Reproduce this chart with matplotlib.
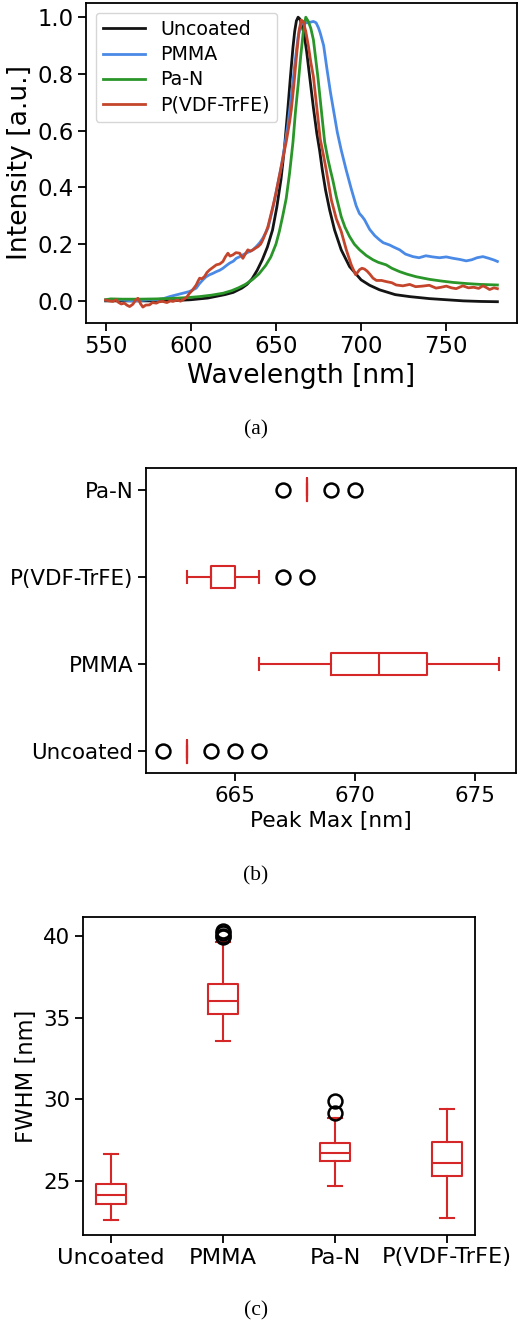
import matplotlib
matplotlib.use("Agg")
import matplotlib.pyplot as plt

# ---------------- data: panel (a) spectra ----------------
wl_uncoated = [550, 560, 570, 580, 590, 600, 610, 620, 625, 630, 633, 636, 639, 642, 645, 648,
               650.5, 653, 655, 657, 658.5, 660, 661, 662, 663, 664, 665, 666.5, 668, 670, 672,
               674, 675.6, 677.2, 679.1, 681.5, 684.4, 688.3, 693.2, 700, 705, 710.8, 720, 728.5,
               740, 750, 760, 770, 780]
int_uncoated = [0.000, 0.000, 0.000, 0.000, 0.001, 0.004, 0.010, 0.022, 0.030, 0.045, 0.058,
                0.078, 0.108, 0.145, 0.190, 0.250, 0.330, 0.430, 0.540, 0.678, 0.790, 0.894,
                0.950, 0.987, 1.000, 0.994, 0.977, 0.940, 0.880, 0.780, 0.680, 0.590, 0.532,
                0.462, 0.391, 0.321, 0.250, 0.180, 0.121, 0.074, 0.055, 0.039, 0.022, 0.015,
                0.008, 0.004, 0.000, -0.002, -0.003]

wl_pmma = [550, 555, 560, 565, 570, 575, 580, 584, 587.6, 591.5, 595.4, 599.3, 603.2, 605, 607.1,
           609, 611, 613, 615, 617, 618.9, 621, 622.8, 625, 626.7, 628.5, 630.6, 632.5, 634.5,
           636.5, 638.4, 640.5, 642.3, 645.3, 647.5, 649.2, 651, 653, 655, 657, 659, 661, 663,
           664.5, 665.8, 668, 670, 672, 673.6, 675, 676, 678, 680, 682, 684, 686, 688.3, 691.2,
           694.2, 697.1, 699, 700.5, 702, 705, 708, 710.8, 713, 716.7, 719, 722.6, 726, 730.4,
           734, 738, 742, 746, 750, 754, 758, 761.7, 765, 768, 771.5, 775, 778, 780]
int_pmma = [0.003, 0.005, 0.003, 0.000, 0.001, 0.004, 0.004, 0.008, 0.015, 0.021, 0.027, 0.033,
            0.045, 0.060, 0.074, 0.085, 0.092, 0.097, 0.103, 0.108, 0.115, 0.125, 0.133, 0.140,
            0.150, 0.155, 0.162, 0.168, 0.174, 0.180, 0.191, 0.205, 0.221, 0.256, 0.310, 0.356,
            0.410, 0.470, 0.540, 0.620, 0.720, 0.830, 0.930, 0.970, 0.985, 0.980, 0.982, 0.985,
            0.980, 0.962, 0.944, 0.900, 0.815, 0.735, 0.665, 0.595, 0.532, 0.462, 0.395, 0.335,
            0.308, 0.298, 0.286, 0.252, 0.230, 0.215, 0.205, 0.197, 0.190, 0.180, 0.165, 0.156,
            0.152, 0.159, 0.155, 0.152, 0.155, 0.150, 0.146, 0.141, 0.145, 0.152, 0.156, 0.150,
            0.144, 0.139]

wl_pan = [550, 553, 560, 570, 580, 590, 599, 605, 612, 619, 624, 628, 632, 636, 640, 644, 647,
          650, 652, 654, 656, 658, 660, 661.5, 663, 664.5, 666, 667.5, 669, 670.5, 672, 674.6,
          676.5, 678.6, 680.5, 682, 683.4, 685.4, 688.3, 690.5, 693.2, 696, 699.1, 703, 706.9,
          710, 714.7, 718, 722.6, 727, 732.4, 740, 747, 754, 762, 770, 780]
int_pan = [0.004, 0.007, 0.006, 0.006, 0.007, 0.009, 0.012, 0.015, 0.020, 0.027, 0.036, 0.046,
           0.058, 0.074, 0.095, 0.125, 0.155, 0.200, 0.245, 0.300, 0.360, 0.450, 0.560, 0.670,
           0.760, 0.860, 0.946, 1.000, 0.985, 0.960, 0.920, 0.790, 0.680, 0.560, 0.500, 0.460,
           0.425, 0.368, 0.297, 0.260, 0.227, 0.200, 0.180, 0.160, 0.145, 0.136, 0.127, 0.115,
           0.103, 0.094, 0.085, 0.076, 0.070, 0.065, 0.061, 0.058, 0.056]

wl_pvdf = [550, 552, 554.3, 556, 557.5, 559.2, 561, 562.5, 564.1, 566, 567.5, 569, 570.5, 571.9,
           573.5, 575.8, 577.5, 579.8, 581.5, 583.6, 586, 588, 589.5, 592, 594, 595.4, 597.5,
           599.3, 601, 603.2, 604.3, 605.2, 606.5, 608.1, 609.5, 611, 613, 615, 617, 618.9,
           620.3, 621.8, 623, 624.7, 626.5, 628.7, 630.6, 632, 633.5, 635, 636.5, 638, 639.4,
           641, 642.3, 644, 645.3, 648.2, 650, 652, 654, 656, 658, 659, 660.5, 662, 663.5,
           664.8, 666, 667.5, 669, 670.5, 672, 674, 676, 678, 679.5, 682.5, 685.4, 687, 688.3,
           691.3, 694.2, 696.8, 699.1, 700.5, 702, 703.5, 705, 707, 709, 712, 714.7, 718, 720.6,
           724.5, 728.5, 732, 736, 740, 744, 747, 750, 753, 755.8, 759.7, 763, 766, 769, 771.5,
           773.5, 775.4, 778, 780]
int_pvdf = [0.003, 0.000, -0.002, 0.004, -0.005, -0.011, -0.008, -0.015, -0.020, -0.012, 0.002,
            0.009, -0.010, -0.022, -0.015, -0.014, -0.006, -0.008, -0.003, -0.002, -0.006, 0.000,
            -0.002, 0.003, -0.001, 0.004, 0.012, 0.027, 0.038, 0.056, 0.070, 0.080, 0.078, 0.086,
            0.100, 0.109, 0.118, 0.127, 0.130, 0.139, 0.155, 0.168, 0.158, 0.162, 0.170, 0.168,
            0.150, 0.165, 0.180, 0.175, 0.180, 0.186, 0.191, 0.200, 0.215, 0.240, 0.262, 0.332,
            0.380, 0.440, 0.500, 0.560, 0.630, 0.673, 0.760, 0.860, 0.950, 0.990, 0.985, 0.950,
            0.900, 0.840, 0.790, 0.680, 0.570, 0.510, 0.462, 0.356, 0.290, 0.265, 0.245, 0.180,
            0.127, 0.092, 0.110, 0.115, 0.112, 0.105, 0.095, 0.080, 0.072, 0.072, 0.068, 0.064,
            0.056, 0.053, 0.058, 0.050, 0.052, 0.055, 0.045, 0.048, 0.052, 0.046, 0.043, 0.053,
            0.046, 0.048, 0.044, 0.053, 0.047, 0.040, 0.046, 0.043]

series_names = ["Uncoated", "PMMA", "Pa-N", "P(VDF-TrFE)"]
series_colors = ["#141414", "#4a8ae6", "#2a962a", "#c4452b"]

# ---------------- data: panel (b) peak max box stats ----------------
pk_labels = ["Uncoated", "PMMA", "P(VDF-TrFE)", "Pa-N"]
pk_whislo = [663, 666, 663, 668]
pk_q1 = [663, 669, 664, 668]
pk_med = [663, 671, 664, 668]
pk_q3 = [663, 673, 665, 668]
pk_whishi = [663, 676, 666, 668]
pk_fliers = [[662, 664, 665, 666], [], [667, 668], [667, 669, 670]]

# ---------------- data: panel (c) FWHM box stats ----------------
fw_labels = ["Uncoated", "PMMA", "Pa-N", "P(VDF-TrFE)"]
fw_whislo = [22.6, 33.58, 24.7, 22.73]
fw_q1 = [23.58, 35.24, 26.22, 25.29]
fw_med = [24.15, 36.04, 26.72, 26.10]
fw_q3 = [24.82, 37.06, 27.30, 27.36]
fw_whishi = [26.63, 39.65, 28.83, 29.42]
fw_fliers = [[], [39.9, 40.0, 40.15, 40.3], [29.14, 29.88], []]

BOX_RED = "#d62728"

W, H = 520, 1322
fig = plt.figure(figsize=(W / 100, H / 100), dpi=100)


def rect(l, t, r, b):
    return [l / W, 1 - b / H, (r - l) / W, (b - t) / H]


def style_axes(ax, lsize):
    for s in ax.spines.values():
        s.set_linewidth(1.3)
    ax.tick_params(width=1.3, length=5.5, labelsize=lsize)


# ---------------- panel (a) ----------------
axA = fig.add_axes(rect(86, 3, 517, 323))
all_wl = [wl_uncoated, wl_pmma, wl_pan, wl_pvdf]
all_int = [int_uncoated, int_pmma, int_pan, int_pvdf]
for x, y, name, c in zip(all_wl, all_int, series_names, series_colors):
    axA.plot(x, y, color=c, lw=2.0, label=name)
axA.set_xticks([550, 600, 650, 700, 750])
axA.set_yticks([0.0, 0.2, 0.4, 0.6, 0.8, 1.0])
axA.set_ylim(-0.078, 1.05)
style_axes(axA, 16.4)
axA.set_xlabel("Wavelength [nm]", fontsize=19.0, labelpad=3)
axA.set_ylabel("Intensity [a.u.]", fontsize=19.2, labelpad=3)
axA.legend(loc="upper left", fontsize=13.7, labelspacing=0.32, handlelength=2.2)

# ---------------- panel (b) ----------------
axB = fig.add_axes(rect(146, 468, 516, 773))
statsB = []
for i in range(len(pk_labels)):
    statsB.append(dict(label=pk_labels[i], whislo=pk_whislo[i], q1=pk_q1[i], med=pk_med[i],
                       q3=pk_q3[i], whishi=pk_whishi[i], fliers=pk_fliers[i]))
lineprops = dict(color=BOX_RED, linewidth=1.5)
flierprops = dict(marker="o", markerfacecolor="none", markeredgecolor="black",
                  markersize=10, markeredgewidth=1.8)
axB.bxp(statsB, positions=[1, 2, 3, 4], widths=0.26, capwidths=0.13,
        orientation="horizontal", boxprops=lineprops, whiskerprops=lineprops,
        capprops=lineprops, medianprops=lineprops, flierprops=flierprops)
axB.set_ylim(0.75, 4.25)
axB.set_xlim(661.3, 676.7)
axB.set_xticks([665, 670, 675])
style_axes(axB, 15.4)
axB.set_xlabel("Peak Max [nm]", fontsize=15.6)

# ---------------- panel (c) ----------------
axC = fig.add_axes(rect(83, 917, 475, 1235))
statsC = []
for i in range(len(fw_labels)):
    statsC.append(dict(label=fw_labels[i], whislo=fw_whislo[i], q1=fw_q1[i], med=fw_med[i],
                       q3=fw_q3[i], whishi=fw_whishi[i], fliers=fw_fliers[i]))
axC.bxp(statsC, positions=[1, 2, 3, 4], widths=0.26, capwidths=0.13,
        boxprops=lineprops, whiskerprops=lineprops,
        capprops=lineprops, medianprops=lineprops, flierprops=flierprops)
axC.set_xlim(0.75, 4.25)
axC.set_ylim(21.7, 41.15)
axC.set_yticks([25, 30, 35, 40])
style_axes(axC, 15.4)
axC.tick_params(axis="x", labelsize=16.2)
axC.set_ylabel("FWHM [nm]", fontsize=16.3)

# ---------------- captions ----------------
for lab, yy in [("(a)", 430), ("(b)", 876), ("(c)", 1311)]:
    fig.text(256 / W, 1 - yy / H, lab, ha="center", va="center",
             family="Liberation Serif", fontsize=15.5)

fig.savefig("out.png", dpi=100)
